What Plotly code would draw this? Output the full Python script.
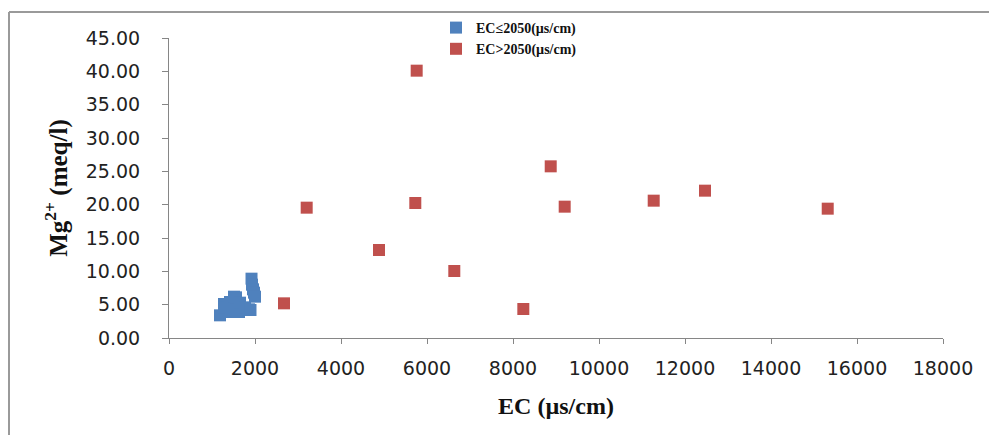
import plotly.graph_objects as go

# Data
blue_ec = [1186, 1279, 1300, 1419, 1442, 1512, 1558, 1628, 1651, 1767, 1860, 1895, 1919, 1930, 1953, 1977, 2000]
blue_mg = [3.4, 5.1, 4.6, 5.4, 3.9, 6.2, 6.1, 3.9, 5.3, 4.6, 4.3, 4.2, 8.9, 8.0, 7.3, 6.8, 6.2]

red_ec = [2674, 3202, 4884, 5760, 5728, 6635, 8240, 8877, 9202, 11272, 12465, 15319]
red_mg = [5.2, 19.55, 13.2, 40.1, 20.25, 10.05, 4.35, 25.75, 19.7, 20.6, 22.1, 19.4]

series_names = ["EC≤2050(µs/cm)", "EC>2050(µs/cm)"]
x_ticks = [0, 2000, 4000, 6000, 8000, 10000, 12000, 14000, 16000, 18000]
y_ticks = [0, 5, 10, 15, 20, 25, 30, 35, 40, 45]

# the page places the figure at an 8px offset, so use figure coords = page - 8
OFF = 8
W, H = 997, 435
L, R, T, B = 169 - OFF, 943 - OFF, 38 - OFF, 338 - OFF

fig = go.Figure()
fig.add_trace(go.Scatter(
    x=blue_ec, y=blue_mg, mode="markers", name=series_names[0],
    marker=dict(symbol="square", size=12, color="#4F81BD", line=dict(width=0)),
))
fig.add_trace(go.Scatter(
    x=red_ec, y=red_mg, mode="markers", name=series_names[1],
    marker=dict(symbol="square", size=12, color="#C0504D", line=dict(width=0)),
))

axis_color = "#868686"
tick_font = dict(family="DejaVu Sans", size=19, color="#222222")
xtitle_font = dict(family="Liberation Serif", size=24, color="#111111", weight="bold")
ytitle_font = dict(family="Liberation Serif", size=25, color="#111111", weight="bold")

fig.update_xaxes(
    range=[0, 18000], tickvals=x_ticks, ticktext=[str(v) for v in x_ticks],
    showline=True, linecolor=axis_color, linewidth=1,
    ticks="outside", ticklen=5, tickcolor=axis_color,
    showgrid=False, zeroline=False, tickfont=tick_font,
    ticklabelstandoff=8,
    title=dict(text="EC (µs/cm)", font=xtitle_font, standoff=19),
)
fig.update_yaxes(
    range=[0, 45], tickvals=y_ticks, ticktext=[f"{v:.2f}" for v in y_ticks],
    showline=True, linecolor=axis_color, linewidth=1,
    ticks="outside", ticklen=6, tickcolor=axis_color,
    showgrid=False, zeroline=False, tickfont=tick_font,
    ticklabelstandoff=18,
    title=dict(text="Mg<sup>2+</sup> (meq/l)", font=ytitle_font, standoff=11),
)

def px_x(p):
    return (p - OFF - L) / (R - L)

def px_y(p):
    return (B - (p - OFF)) / (B - T)

# outer chart frame (left and top edges visible)
fig.add_shape(type="line", xref="paper", yref="paper",
              x0=px_x(9), x1=px_x(9), y0=px_y(12), y1=px_y(450),
              line=dict(color="#9a9a9a", width=2))
fig.add_shape(type="line", xref="paper", yref="paper",
              x0=px_x(9), x1=px_x(1010), y0=px_y(12), y1=px_y(12),
              line=dict(color="#9a9a9a", width=2))

fig.update_layout(
    width=W, height=H,
    margin=dict(l=L, r=W - R, t=T, b=H - B, autoexpand=False),
    paper_bgcolor="white", plot_bgcolor="white",
    showlegend=True,
    legend=dict(
        x=px_x(436), y=px_y(12), xanchor="left", yanchor="top",
        font=dict(family="Liberation Serif", size=14, color="#111111", weight="bold"),
        bgcolor="rgba(0,0,0,0)", itemwidth=30, tracegroupgap=0,
    ),
)

fig.write_html("out.html")
